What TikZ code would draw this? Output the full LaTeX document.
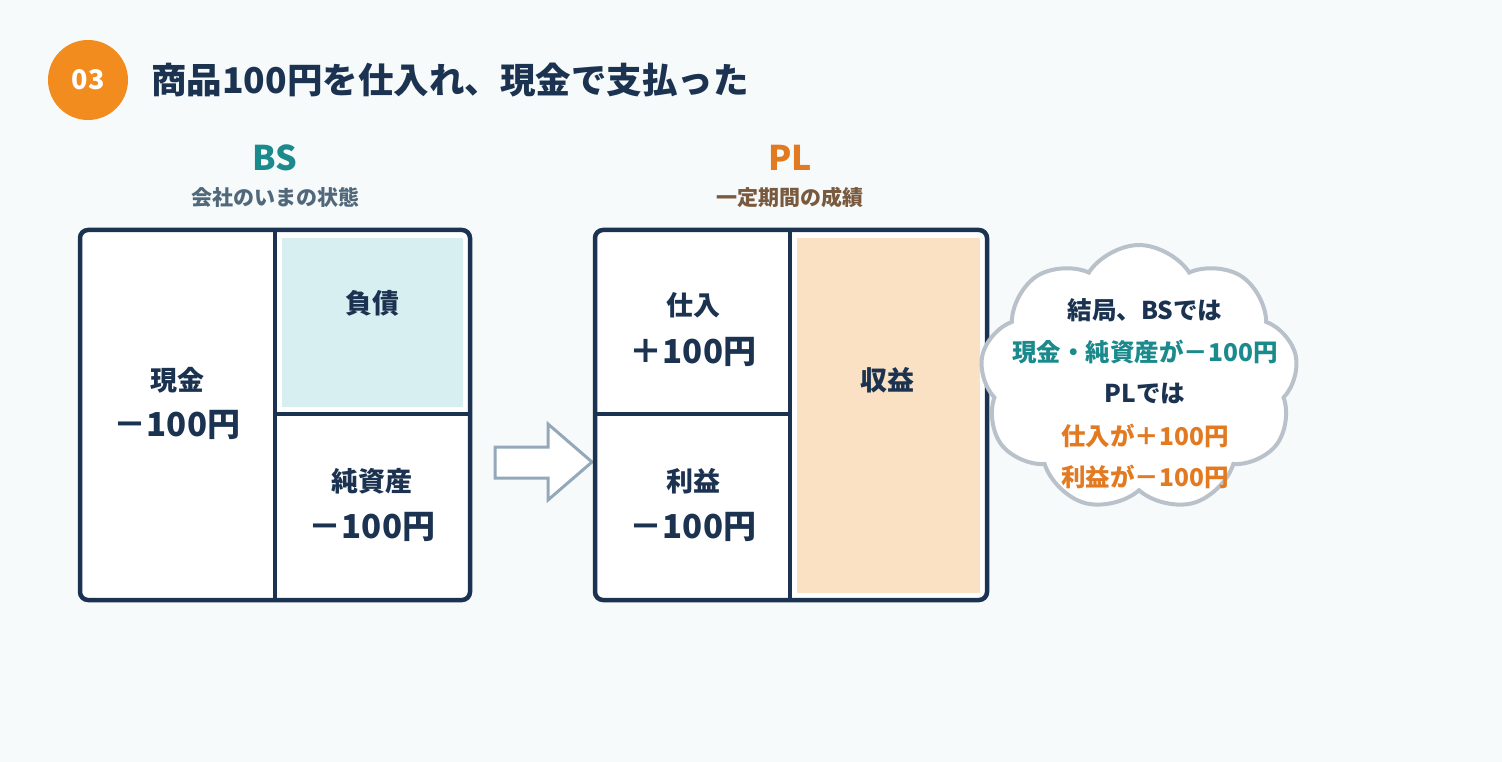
\documentclass[tikz,border=0pt]{standalone}
\usepackage{fontspec}
\setmainfont{Noto Sans CJK JP}
\usetikzlibrary{shapes.symbols}
\definecolor{bg}{HTML}{F6FAFB}
\definecolor{navy}{HTML}{1B3350}
\definecolor{teal}{HTML}{1A8A8C}
\definecolor{orng}{HTML}{E27A22}
\definecolor{badge}{HTML}{F28C1E}
\definecolor{bsgray}{HTML}{51677A}
\definecolor{plbrown}{HTML}{7A5A3E}
\definecolor{liab}{HTML}{D8EFF1}
\definecolor{rev}{HTML}{FAE1C4}
\definecolor{arrowc}{HTML}{93A8B8}
\definecolor{cloudc}{HTML}{B9C2CA}
\tikzset{
  frame/.style={draw=navy, line width=4.5pt, rounded corners=8pt},
  divider/.style={draw=navy, line width=4.5pt},
  lbl/.style={font=\fontsize{27}{32}\selectfont\bfseries, text=navy, inner sep=0pt},
  amt/.style={font=\fontsize{33}{38}\selectfont\bfseries, text=navy, inner sep=0pt},
  cl/.style={font=\fontsize{24.5}{28}\selectfont\bfseries, inner sep=0pt},
}
\begin{document}
\begin{tikzpicture}[x=1pt,y=-1pt]
\fill[bg] (0,0) rectangle (1502,762);
\useasboundingbox (0,0) rectangle (1502,762);
% badge and title
\node[circle, fill=badge, minimum size=80pt, inner sep=0pt, text=white, font=\fontsize{27}{30}\selectfont\bfseries] (badge) at (88,80) {03};
\node[anchor=west, text=navy, inner sep=0pt, font=\fontsize{35.5}{40}\selectfont\bfseries] (title) at (151,80) {商品100円を仕入れ、現金で支払った};
% headings
\node[text=teal, inner sep=0pt, font=\fontsize{34}{40}\selectfont\bfseries] (bsh) at (275,158) {BS};
\node[text=bsgray, inner sep=0pt, font=\fontsize{21}{25}\selectfont\bfseries] (bss) at (275,197) {会社のいまの状態};
\node[text=orng, inner sep=0pt, font=\fontsize{34}{40}\selectfont\bfseries] (plh) at (790,158) {PL};
\node[text=plbrown, inner sep=0pt, font=\fontsize{21}{25}\selectfont\bfseries] (pls) at (790,197) {一定期間の成績};
% BS box
\fill[white, rounded corners=8pt] (80,230) rectangle (470,600);
\fill[liab] (282,238) rectangle (463,407);
\draw[frame] (80,230) rectangle (470,600);
\draw[divider] (275,230) -- (275,600);
\draw[divider] (275,414) -- (470,414);
\node[lbl] (cash) at (177,380) {現金};
\node[amt] (cashv) at (177,425) {－100円};
\node[lbl] (liabl) at (372,303) {負債};
\node[lbl] (eq) at (372,481) {純資産};
\node[amt] (eqv) at (372,527) {－100円};
% arrow
\draw[draw=arrowc, fill=white, line width=3pt] (495,447) -- (548,447) -- (548,424) -- (592,462) -- (548,500) -- (548,478) -- (495,478) -- cycle;
% PL box
\fill[white, rounded corners=8pt] (595,230) rectangle (987,600);
\fill[rev] (797,238) rectangle (980,593);
\draw[frame] (595,230) rectangle (987,600);
\draw[divider] (790,230) -- (790,600);
\draw[divider] (595,414) -- (790,414);
\node[lbl] (pur) at (693,305) {仕入};
\node[amt] (purv) at (693,352) {＋100円};
\node[lbl] (prof) at (693,481) {利益};
\node[amt] (profv) at (693,527) {－100円};
\node[lbl] (revl) at (887,380) {収益};
% cloud
\node[cloud, cloud puffs=9, cloud puff arc=115, aspect=1.2, draw=cloudc, fill=white, line width=4pt, minimum width=318pt, minimum height=266pt, inner sep=0pt] (cloud) at (1139,378) {};
\node[cl, text=navy] (c1) at (1145,310) {結局、BSでは};
\node[cl, text=teal] (c2) at (1145,352) {現金・純資産が－100円};
\node[cl, text=navy] (c3) at (1145,394) {PLでは};
\node[cl, text=orng] (c4) at (1145,436) {仕入が＋100円};
\node[cl, text=orng] (c5) at (1145,477) {利益が－100円};
\end{tikzpicture}
\end{document}
